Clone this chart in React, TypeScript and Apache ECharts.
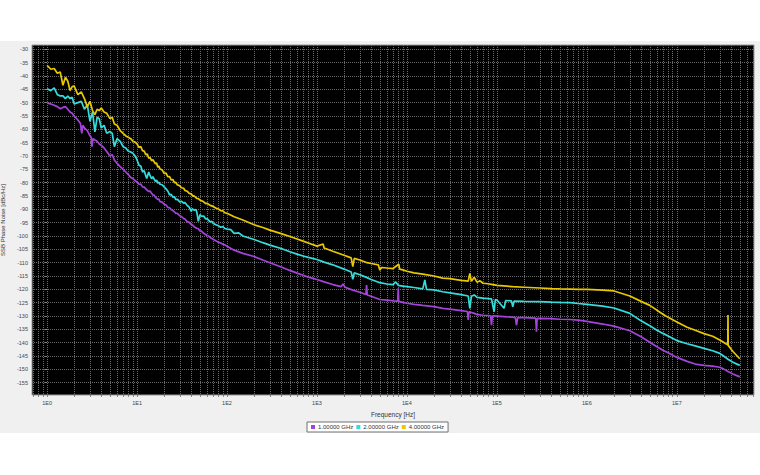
import { useEffect, useRef } from 'react';
import * as echarts from 'echarts';

const seriesNames = ['1.00000 GHz', '2.00000 GHz', '4.00000 GHz'];
const seriesColors = ['#a443dc', '#34dcdc', '#e8c800'];
const decadeExponents = [-1, 0, 1, 2, 3, 4, 5, 6, 7];
const decadeMultipliers = [1, 2, 3, 4, 5, 6, 7, 8, 9];
const yTickValues = [-155, -150, -145, -140, -135, -130, -125, -120, -115, -110, -105, -100, -95, -90, -85, -80, -75, -70, -65, -60, -55, -50, -45, -40, -35, -30];
const freqRangeHz = [0.68, 7.2e7];
const dbRange = [-159.6, -28.4];

// [frequency Hz, dBc/Hz]
const purpleTrace: [number, number][] = [
  [1, -50.2], [1.1, -50.5], [1.2, -51], [1.3, -51.5], [1.4, -52.3], [1.5, -51.8], [1.6, -51.5], [1.7, -52.5], [1.8, -53.5], [1.9, -54],
  [2.0, -55], [2.2, -56.5], [2.35, -57.8], [2.43, -61.5], [2.5, -58.5], [2.6, -59.5], [2.8, -60.5], [3.0, -62.5], [3.1, -63], [3.15, -66.5],
  [3.25, -63.5], [3.4, -64], [3.6, -64.5], [3.8, -65.5], [4.0, -66], [4.3, -67], [4.6, -68.3], [5.0, -70], [5.3, -69.5], [5.6, -71.5],
  [6.0, -72.8], [6.5, -74], [7, -75], [7.5, -76], [8, -77], [8.5, -78], [9, -78.5], [9.5, -79.2],
  [10, -79.8], [10.5, -80.6], [11, -80.5], [11.5, -81.6], [12, -81.7], [13, -82.9], [13.5, -83.3], [14, -83.2], [15, -84.6], [15.5, -84.7],
  [16, -85.5], [17, -86.3], [17.5, -86.2], [18, -87.1], [19, -87.3], [20, -88.1], [21, -88.4], [22, -89.3], [23, -89.4], [24, -90.1],
  [26, -90.9], [27, -91.5], [28, -91.5], [30, -92.5], [31, -92.6], [33, -93.5], [34, -93.6], [36, -94.6], [38, -94.9], [40, -95.7],
  [42, -96.1], [43, -96.5], [46, -97.1], [48, -97.3], [50, -98.1], [52, -98.2], [55, -99], [60, -99.8], [62, -99.9], [65, -100.6],
  [70, -101.2], [75, -101.8], [80, -102.3], [85, -102.6], [90, -103.1], [95, -103.4],
  [100, -103.8], [120, -105.3], [150, -106.5], [200, -107.7], [250, -109], [300, -110], [400, -111.6], [500, -112.9], [600, -113.9], [700, -114.7], [800, -115.4],
  [1000, -116.3], [1200, -117.2], [1500, -118.2], [1850, -119], [1950, -118], [2050, -119.2], [2500, -120.3], [3000, -121.1], [3500, -121.9], [3560, -118.4],
  [3620, -122.1], [4000, -122.6], [5000, -123.8], [6000, -124], [7000, -124.3], [7900, -124.4], [8000, -119.6], [8100, -124.5], [9000, -124.9],
  [10000, -125.2], [12000, -125.6], [15000, -126], [20000, -126.5], [25000, -127.1], [30000, -127.4], [40000, -128], [47000, -128.3], [48000, -131.5], [49000, -128.4],
  [56000, -129], [60000, -129.4], [70000, -129.7], [80000, -129.8], [85000, -129.9], [87000, -133.4], [89000, -129.9],
  [1e5, -130], [1.3e5, -130.3], [1.6e5, -130.5], [1.65e5, -133.4], [1.7e5, -130.6], [2e5, -130.6], [2.7e5, -130.8], [2.75e5, -135.9], [2.8e5, -130.9],
  [4e5, -131], [5e5, -131.2], [6.5e5, -131.3], [8e5, -131.5],
  [1e6, -132], [1.5e6, -133], [2e6, -133.8], [3e6, -135.5], [4e6, -137.8], [5e6, -139.8], [6e6, -141.5], [7e6, -142.8], [8e6, -143.8],
  [1e7, -145.5], [1.3e7, -147], [1.6e7, -148], [2e7, -148.5], [2.5e7, -148.8], [3e7, -149.2], [3.3e7, -149.8], [3.7e7, -150.8], [4.2e7, -151.7], [5e7, -152.8],
];

const cyanTrace: [number, number][] = [
  [1, -44.8], [1.1, -45.5], [1.2, -44.5], [1.3, -47], [1.4, -47.5], [1.5, -47.5], [1.6, -48.5], [1.7, -47.5], [1.8, -48.5], [1.9, -48],
  [2.0, -50.5], [2.2, -50], [2.4, -49.5], [2.6, -52.5], [2.8, -50.8], [3.0, -57], [3.2, -53.5], [3.4, -61], [3.6, -55.5], [3.8, -56],
  [4.0, -59.5], [4.3, -58.5], [4.6, -61.5], [5.0, -60.8], [5.3, -61.5], [5.6, -66.5], [6.0, -63.5], [6.5, -64.5], [7, -66.5], [7.5, -67],
  [8, -68.2], [8.5, -68.5], [9, -69], [9.5, -70],
  [10, -71.5], [10.5, -73.5], [11, -73.8], [11.5, -76], [12, -75.5], [12.8, -78.4], [13.5, -76], [14, -77.5], [14.5, -78.5], [15, -77.8],
  [16, -79.5], [16.5, -79], [17, -80.2], [17.5, -79.8], [18, -80.6], [19, -80.8], [20, -81.6], [21, -82.3], [22, -83.2], [23, -84.6],
  [24, -84.4], [25, -85.5], [26, -85.2], [27, -86.4], [28, -86.2], [30, -87.3], [31, -86.9], [33, -87.7], [34, -87.4], [36, -88.5],
  [38, -89.2], [40, -90.8], [41, -89.8], [43, -90.3], [45, -90.1], [46, -90.8], [48, -94.5], [50, -92], [52, -92.6], [55, -92.5],
  [58, -93.6], [60, -93.5], [65, -94.7], [68, -94.5], [70, -95.2], [75, -95.8], [80, -96.1], [85, -96.7], [90, -96.5], [95, -97.2],
  [100, -97.4], [110, -97.6], [120, -99], [135, -98.8], [150, -100], [200, -101.3], [250, -102.5], [300, -103.4], [400, -104.7], [500, -105.9],
  [600, -106.8], [700, -107.5], [800, -108],
  [1000, -108.8], [1200, -109.8], [1500, -110.8], [2000, -112.4], [2400, -113.5], [2500, -116.2], [2600, -113.8], [3000, -114.5], [3600, -115.6], [4000, -116.3],
  [5000, -117.5], [6000, -118], [7000, -118.2], [7500, -117.2], [8000, -118.5], [9000, -118.8],
  [10000, -119], [12000, -119.3], [15000, -119.8], [15800, -116.5], [16500, -120], [20000, -120.2], [25000, -120.9], [30000, -121.3], [40000, -122], [48000, -122.5],
  [50000, -127.1], [52000, -122.6], [56000, -122.1], [60000, -123], [70000, -123.3], [80000, -123.5], [87000, -123.6], [93000, -128.4], [96000, -123.8],
  [1e5, -124], [1.2e5, -127.1], [1.25e5, -124.2], [1.45e5, -124.3], [1.5e5, -126.5], [1.55e5, -124.4], [2e5, -124.5], [3e5, -124.6], [4e5, -124.8], [5e5, -124.9],
  [6.5e5, -125], [8e5, -125.3],
  [1e6, -125.6], [1.5e6, -126.3], [2e6, -127], [3e6, -129], [4e6, -131.8], [5e6, -133.6], [6e6, -135.3], [7e6, -136.5], [8e6, -137.5],
  [1e7, -139.2], [1.3e7, -140.4], [1.6e7, -141.2], [2e7, -142.1], [2.5e7, -143], [3e7, -144], [3.3e7, -145], [3.7e7, -146.2], [4.2e7, -147.3], [5e7, -148.5],
];

const yellowTrace: [number, number][] = [
  [1, -36], [1.1, -37.5], [1.2, -37.2], [1.3, -39], [1.4, -38.5], [1.5, -43.5], [1.6, -40.5], [1.7, -42], [1.8, -45.5], [1.9, -44],
  [2.0, -43.8], [2.2, -47], [2.4, -46], [2.6, -48.5], [2.8, -51.5], [3.0, -49.5], [3.2, -53], [3.4, -54.5], [3.6, -52.5], [3.8, -53],
  [4.0, -52], [4.3, -53.5], [4.6, -54], [5.0, -56], [5.3, -55.5], [5.6, -58], [6.0, -58.5], [6.5, -60.5], [7, -61.5], [7.5, -62.5],
  [8, -63], [8.5, -63.5], [9, -64.5], [9.5, -64.8],
  [10, -65.5], [10.5, -66.8], [11, -66.5], [11.5, -68], [12, -68.2], [12.5, -69.5], [13, -69.3], [13.5, -70.8], [14, -70.6], [14.5, -71.8],
  [15, -71.4], [16, -72.9], [16.5, -72.6], [17, -74.2], [17.5, -73.8], [18, -74.9], [19, -75.2], [20, -76.5], [21, -76.4], [22, -77.8],
  [23, -77.7], [24, -79], [25, -78.8], [26, -80], [27, -79.9], [28, -80.8], [30, -81.2], [31, -81.9], [33, -82.1], [34, -82.9],
  [36, -83.2], [38, -84], [40, -84.2], [42, -85.1], [43, -84.9], [46, -85.9], [48, -86], [50, -86.5], [55, -87.2], [58, -87.9],
  [60, -87.7], [65, -88.5], [70, -88.9], [75, -89.5], [80, -89.9], [85, -90.5], [90, -90.6], [95, -91.3],
  [100, -91.5], [120, -92.8], [150, -94], [200, -95.8], [250, -96.8], [300, -97.8], [400, -99.1], [500, -100.2], [600, -101.1], [700, -101.9],
  [800, -102.6],
  [1000, -103.8], [1170, -103], [1200, -104.5], [1500, -105.7], [2000, -107.2], [2400, -108.2], [2500, -111.5], [2600, -108.4], [3000, -109], [3600, -110],
  [4000, -110.3], [4800, -110.8], [5000, -112.8], [5200, -111.8], [6000, -112], [7000, -112.2], [8100, -110.6], [8300, -112.4], [9000, -112.7],
  [10000, -113.2], [12000, -113.8], [15000, -114.3], [20000, -115], [25000, -115.8], [30000, -116], [40000, -116.6], [48000, -116.9], [50000, -114], [52000, -117],
  [56000, -115.5], [60000, -117.3], [65000, -116.8], [70000, -117.7], [80000, -117.9], [90000, -118.2],
  [1e5, -118.5], [1.5e5, -119], [2e5, -119.2], [3e5, -119.5], [4e5, -119.7], [5e5, -119.8], [6.5e5, -119.9], [8e5, -120],
  [1e6, -120], [1.5e6, -120.3], [2e6, -120.6], [3e6, -122.5], [4e6, -124.5], [5e6, -126], [6e6, -127.8], [7e6, -129.3], [8e6, -130.5],
  [1e7, -132.2], [1.3e7, -134.2], [1.6e7, -135.3], [2e7, -136.6], [2.5e7, -137.6], [3e7, -139], [3.3e7, -139.8], [3.5e7, -140.4], [3.68e7, -140.8], [3.7e7, -129.6],
  [3.72e7, -141], [4.2e7, -143.3], [5e7, -146],
];

const traces = [purpleTrace, cyanTrace, yellowTrace];

export default function App() {
  const ref = useRef<HTMLDivElement>(null);

  useEffect(() => {
    if (!ref.current) return;
    const chart = echarts.init(ref.current, null, { renderer: 'svg' });
    const xMin = Math.log10(freqRangeHz[0]);
    const xMax = Math.log10(freqRangeHz[1]);
    const gridTicks: number[] = [];
    decadeExponents.forEach((e) => {
      decadeMultipliers.forEach((k) => {
        const v = e + Math.log10(k);
        if (v > xMin + 1e-6 && v < xMax - 1e-6) gridTicks.push(v);
      });
    });
    const labelTicks = decadeExponents.filter((e) => e >= xMin && e <= xMax);
    const font = 'Liberation Sans, Arial, sans-serif';

    chart.setOption({
      animation: false,
      backgroundColor: 'transparent',
      textStyle: { fontFamily: font },
      grid: {
        left: 32,
        right: 6,
        top: 45,
        bottom: 80,
        outerBoundsMode: 'none',
        containLabel: false,
        show: true,
        backgroundColor: '#000000',
        borderColor: '#9a9a9a',
        borderWidth: 1,
      },
      legend: {
        left: 307,
        top: 422,
        orient: 'horizontal',
        icon: 'rect',
        itemWidth: 4,
        itemHeight: 4,
        itemGap: 3,
        padding: [2, 4],
        backgroundColor: '#ffffff',
        borderColor: '#707070',
        borderWidth: 1,
        borderRadius: 0,
        textStyle: { fontSize: 6, color: '#333', fontFamily: font, padding: [0, 0, 0, -2] },
        data: seriesNames,
      },
      xAxis: {
        type: 'value',
        min: xMin,
        max: xMax,
        name: 'Frequency [Hz]',
        nameLocation: 'middle',
        nameGap: 16,
        nameTextStyle: { fontSize: 6.5, color: '#333', fontFamily: font },
        axisLine: { show: false },
        axisTick: { show: true, customValues: gridTicks, length: 2, lineStyle: { color: '#8a8a8a' } },
        axisLabel: {
          customValues: labelTicks,
          fontSize: 5.5,
          color: '#444',
          margin: 5,
          fontFamily: font,
          formatter: (v: number) => '1E' + Math.round(v),
        },
        splitLine: { show: true, lineStyle: { color: '#6a6a6a', type: [1, 1], width: 1 } },
      },
      yAxis: {
        type: 'value',
        min: dbRange[0],
        max: dbRange[1],
        name: 'SSB Phase Noise [dBc/Hz]',
        nameLocation: 'middle',
        nameGap: 22,
        nameTextStyle: { fontSize: 6, color: '#333', fontFamily: font },
        axisLine: { show: false },
        axisTick: { show: true, customValues: yTickValues, length: 2, lineStyle: { color: '#8a8a8a' } },
        axisLabel: {
          customValues: yTickValues,
          fontSize: 5.5,
          color: '#444',
          margin: 4,
          fontFamily: font,
        },
        splitLine: { show: true, lineStyle: { color: '#6a6a6a', type: [1, 1], width: 1 } },
      },
      series: traces.map((trace, i) => ({
        name: seriesNames[i],
        type: 'line',
        data: trace.map(([f, db]) => [Math.log10(f), db]),
        showSymbol: false,
        symbol: 'none',
        color: seriesColors[i],
        lineStyle: { color: seriesColors[i], width: 1.7 },
        clip: true,
      })),
    });

    return () => chart.dispose();
  }, []);

  return (
    <div
      style={{
        position: 'fixed',
        left: 0,
        top: 0,
        width: 760,
        height: 475,
        background: 'linear-gradient(#ffffff 0px, #ffffff 41px, #f0f0f0 41px, #f0f0f0 433px, #ffffff 433px)',
      }}
    >
      <div ref={ref} style={{ width: 760, height: 475 }} />
    </div>
  );
}
